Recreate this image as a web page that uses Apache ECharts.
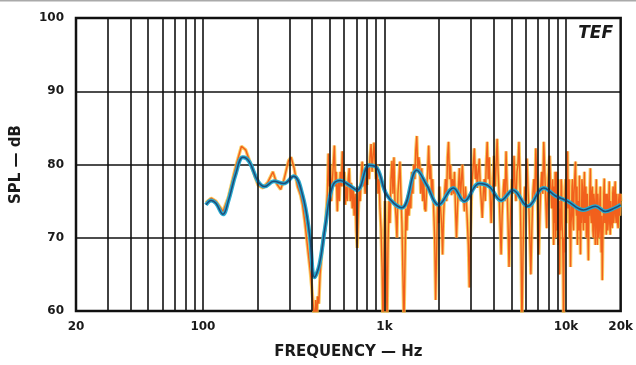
<!DOCTYPE html>
<html>
<head>
<meta charset="utf-8">
<script src="https://cdn.jsdelivr.net/npm/echarts@6/dist/echarts.min.js"></script>
<style>
html,body{margin:0;padding:0;background:#fff;}
#chart{width:636px;height:365px;}
</style>
</head>
<body>
<div id="chart"></div>
<script>
// ---- data ----
const gridFreqs = [30,40,50,60,70,80,90,100,200,300,400,500,600,700,800,900,1000,2000,3000,4000,5000,6000,7000,8000,9000,10000];
const xTickLabels = {20:'20',100:'100',1000:'1k',10000:'10k',20000:'20k'};
const yTicks = [60,70,80,90,100];

// smoothed response (blue)
const blueFreq = [104,111,118,129,138,152,166,180,201,219,246,279,316,354,387,412,438,471,517,571,637,708,824,911,1033,1248,1507,1709,1987,2397,2748,3329,3776,4391,5103,6160,7545,8771,10190,12480,14508,16453,18659,20000];
const blueDb   = [74.5,75.1,74.7,73.2,75.0,78.8,81.0,80.4,77.7,77.0,77.7,77.4,78.4,75.8,70.4,64.6,66.3,71.4,77.0,77.8,77.2,76.5,79.9,79.5,75.8,74.1,79.2,77.2,74.5,76.8,75.0,77.4,77.0,75.1,76.5,74.3,76.8,75.7,75.0,73.8,74.3,73.6,74.1,74.5];

// raw response (orange) — low band
const orangeLowFreq = [104,111,118,129,138,152,163,172,185,201,214,228,243,256,268,280,296,306,318,332,345,354,365,378,390,400,408,413,418,423,428,435,442,452,462,471];
const orangeLowDb   = [74.8,75.4,75.0,73.6,75.5,79.8,82.5,82.0,79.8,77.2,76.8,77.6,79.0,77.3,76.6,78.0,80.5,81.0,79.5,77.0,75.8,74.5,72.0,68.5,65.5,62.5,60.0,58.0,61.5,58.0,62.0,61.0,65.0,68.0,70.5,71.0];

// raw response (orange) — mid band
const orangeMidFreq = [
485,491,497,504,510,517,523,530,537,543,
550,557,564,571,579,586,593,601,608,616,
624,632,640,648,656,665,673,681,690,699,
708,717,726,735,744,754,763,773,783,793,
803,813,823,833,844,855,865,876,888,899,
911,922,934,945,957,970,982,994,1007,1020,
1033,1046,1059,1072,1086,1100,1114,1128,1142,1157,
1172,1186,1201,1217,1232,1248,1264,1280,1296,1312,
1329,1346,1363,1380,1397,1415,1433,1451,1470,1488,
1507,1526,1545,1565,1585,1605,1625,1646,1666,1687,
1709,1730,1752,1775,1797,1820,1843,1866,1890,1914,
1938,1962,1987,2012,2038,2064,2090,2116,2143,2170,
2198,2226,2254,2282,2311,2341,2370,2400,2431,2462,
2493,2524,2556,2589,2621,2655,2688,2722,2757,2792,
2827,2863,2899,2936,2973,3010,3048,3087,3126,3166,
3206,3246,3287,3329,3371,3414,3457,3501,3545,3590,
3636,3682,3728,3775,3823,3872,3921,3970,4021,4071,
4123,4175,4228,4281,4336,4391,4446,4502,4559,4617,
4676,4735,4795,4855,4917,4980,5043,5106,5171,5237,
5303,5370,5438,5507,5577,5647,5718,5791,5864,5938,
6014,6090,6167,6245,6324,6404,6485,6567,6650,6734,
6820,6906,6993,7082,7171,7263,7354,7447,7541,7637,
7734,7831,7930,8031,8132,8236,8340,8445,8553];
const orangeMidDb = [
76,81.5,77,80,75,78,80,82.6,77,79,
73.6,78,75,79,77,81.8,77,79,74.5,77,
75,78,79.5,75,77.5,74,77,73,76,71,
68.6,73,77,75,78,80.4,77,79,76,79,
77.2,80,78,81,82.8,79,81,83,80,78,
80,76,78,74,71.3,66,58,68,75,68,
58.5,69,75,72,78,80.5,76,81,75,73,
70,76,78,80.4,76,72,65,58,66,74,
71,75.8,73,76,74,79,76,80,78,82,
83.9,79,81,79.9,76,79.5,75,78,74,73.6,
77,79,82.6,78,80,75.8,78,74,70,61.5,
68,74.5,72,77,74,72,67.7,73,76,78,
75,81,83.1,78,80,75.8,78,76,79,74,
70,74,77,79.5,75,78,80,76,73.6,77,
75,72,69,63.2,70,75,78,80,82.2,78,
80,76.8,79,80.8,77,75,72.7,76,78,75,
80,83.1,78,81,75.8,72,76,78,81.2,77,
80,83.5,79,76,72,67.7,73,76,78,75,
81.8,77,72,66,71,75,78,76,81.2,77,
75,79,80,83.1,78,70,58,67,74,77,
75,80.8,77,74,70,65,71,76,78,75,
82.2,78,73,67.7,73,77,79,76,83.1,79,
75,71.3,77,79,81.2,77,74,78,69];

// raw response (orange) — dense high band
const orangeHighFreq = [8607,8661,8716,8771,8826,8882,8938,8994,9051,9108,9165,9223,9282,9341,9400,9459,9518,9578,9638,9699,9760,9822,9884,9947,10010,10073,10136,10200,10264,10329,10394,10460,10526,10593,10660,10727,10794,10862,10931,11000,11069,11139,11210,11281,11352,11423,11495,11568,11641,11714,11788,11862,11937,12013,12089,12165,12241,12318,12396,12474,12553,12632,12712,12793,12874,12955,13036,13118,13201,13284,13368,13452,13538,13624,13710,13796,13883,13970,14058,14147,14236,14326,14417,14508,14599,14691,14784,14877,14971,15065,15160,15256,15353,15450,15547,15645,15744,15843,15943,16043,16144,16246,16349,16453,16557,16661,16766,16871,16978,17085,17193,17302,17411,17521,17631,17742,17854,17967,18080,18194,18309,18424,18541,18659,18777,18895,19014,19134,19255,19376,19498,19620,19745,19870,19935,20000];
const orangeHighDb = [77,72,79,70,76,79,71,74,78,69,75,65,74,71,78,77,72,70,66,58,70,68,76,78,72,74,79,81.8,74,75,78,70,75,66,72,73,77,78,72,71,76,76,79,80.4,74,73,77,69,75,75,71,78.5,73,67.7,74,72,78,77,73,71,76,79,72,74,77,70,75,76,71,66.9,74,73,77,79.5,73,72,76,77,71,70,76,75,72,69,75,78,72,69,76,74,70,71,75,77,71,68,73,64.2,70,72,76,78.1,72,73,76,70.4,74,76,71,72,75,77.7,72,70.4,75,75,72,71.3,76,77,72,73,76,77.7,73,72,76,76,72,71.3,75,76,73,73,76,75];

// ---- build ----
const zip = (a, b) => a.map((v, i) => [v, b[i]]);
const blueData = zip(blueFreq, blueDb);
const orangeData = zip(orangeLowFreq, orangeLowDb)
  .concat(zip(orangeMidFreq, orangeMidDb))
  .concat(zip(orangeHighFreq, orangeHighDb));

const chart = echarts.init(document.getElementById('chart'), null, {renderer: 'canvas'});
const labelFont = {fontFamily: 'DejaVu Sans', fontWeight: 'bold', fontSize: 12, color: '#1a1a1a'};

chart.setOption({
  animation: false,
  backgroundColor: '#ffffff',
  grid: {left: 76, right: 10, top: 18, bottom: 51, show: true, borderColor: '#111', borderWidth: 2.5, backgroundColor: 'transparent'},
  xAxis: {
    type: 'log', logBase: 10, min: 20, max: 20000,
    name: 'FREQUENCY — Hz', nameLocation: 'middle', nameGap: 34,
    nameTextStyle: {fontFamily: 'DejaVu Sans', fontWeight: 'bold', fontSize: 15, color: '#1a1a1a'},
    axisLine: {show: false}, axisTick: {show: false},
    splitLine: {show: false}, minorSplitLine: {show: false},
    axisLabel: Object.assign({margin: 10, showMinLabel: true, showMaxLabel: true,
      formatter: v => { const r = Math.round(v); return xTickLabels[r] !== undefined ? xTickLabels[r] : ''; }}, labelFont)
  },
  yAxis: {
    type: 'value', min: yTicks[0], max: yTicks[yTicks.length - 1], interval: 10,
    name: 'SPL — dB', nameLocation: 'middle', nameGap: 52,
    nameTextStyle: {fontFamily: 'DejaVu Sans', fontWeight: 'bold', fontSize: 15, color: '#1a1a1a'},
    axisLine: {show: false}, axisTick: {show: false},
    splitLine: {show: true, lineStyle: {color: '#111', width: 1.6}},
    axisLabel: Object.assign({margin: 12}, labelFont)
  },
  graphic: [
    {type: 'text', x: 613, y: 34, style: {text: 'TEF', font: 'italic bold 17px "DejaVu Sans"', fill: '#1a1a1a', textAlign: 'right', textVerticalAlign: 'middle'}},
    {type: 'line', shape: {x1: 0, y1: 0.5, x2: 636, y2: 0.5}, style: {stroke: '#aaa', lineWidth: 2}}
  ],
  series: [
    {
      type: 'line', data: [], z: 1, silent: true,
      markLine: {
        silent: true, symbol: ['none', 'none'], label: {show: false},
        lineStyle: {color: '#111', width: 1.6, type: 'solid'},
        data: gridFreqs.map(f => ({xAxis: f}))
      }
    },
    {type: 'line', data: orangeData, z: 2, showSymbol: false, silent: true,
      lineStyle: {color: '#f8bf3c', width: 3.4, opacity: 0.8}},
    {type: 'line', data: orangeData, z: 3, showSymbol: false, silent: true,
      lineStyle: {color: '#f2601c', width: 1.4}},
    {type: 'line', data: blueData, z: 4, showSymbol: false, silent: true, smooth: 0.4,
      lineStyle: {color: '#27a9cf', width: 4}},
    {type: 'line', data: blueData, z: 5, showSymbol: false, silent: true, smooth: 0.4,
      lineStyle: {color: '#1d3563', width: 1.5, opacity: 0.8}}
  ]
});
</script>
</body>
</html>
